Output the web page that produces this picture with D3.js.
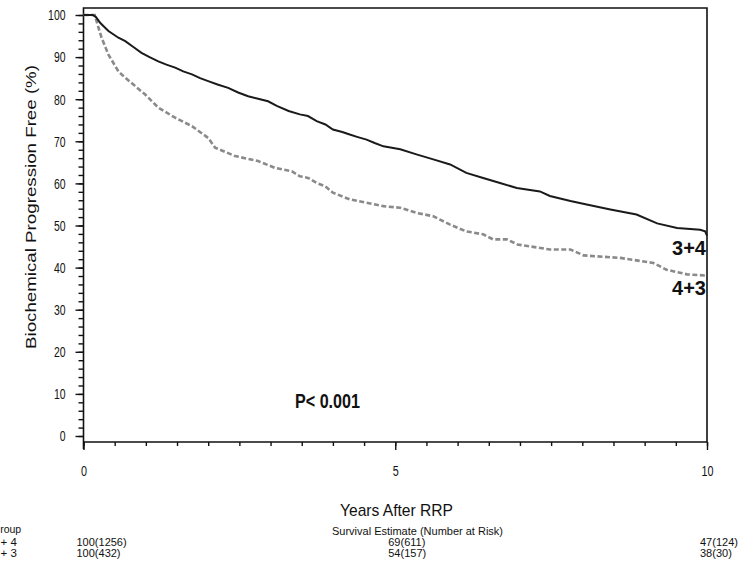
<!DOCTYPE html>
<html>
<head>
<meta charset="utf-8">
<script src="https://cdn.jsdelivr.net/npm/d3@7"></script>
<style>
  body { margin: 0; background: #fff; }
  text { font-family: "Liberation Sans", Arial, sans-serif; fill: #111; }
</style>
</head>
<body>
<svg id="km"></svg>
<script>
// Kaplan-Meier curves (years, % free)
let years34 = [0, 0.15, 0.2, 0.27, 0.4, 0.56, 0.67, 0.8, 0.93, 1.06, 1.2, 1.33, 1.47, 1.6, 1.74, 1.87,
  2.0, 2.15, 2.32, 2.48, 2.64, 2.8, 2.96, 3.1, 3.29, 3.47, 3.6, 3.74, 3.88, 4.0, 4.15, 4.27, 4.4,
  4.54, 4.67, 4.81, 5.08, 5.34, 5.61, 5.88, 6.14, 6.41, 6.68, 6.95, 7.32, 7.48, 7.81, 8.07, 8.45,
  8.87, 9.2, 9.52, 9.89, 9.97, 10];
let surv34 = [100, 100, 99.5, 98.1, 96.2, 94.6, 93.8, 92.4, 91.0, 90.0, 89.0, 88.2, 87.5, 86.6, 85.9, 85.0,
  84.3, 83.5, 82.7, 81.6, 80.7, 80.1, 79.5, 78.4, 77.2, 76.4, 76.0, 74.8, 74.0, 72.8, 72.2, 71.6, 71.0,
  70.4, 69.6, 68.8, 68.1, 66.9, 65.7, 64.5, 62.5, 61.3, 60.1, 58.9, 58.1, 57.0, 55.8, 55.0, 53.8,
  52.6, 50.5, 49.4, 49.0, 48.6, 47.6];

let years43 = [0, 0.18, 0.24, 0.29, 0.4, 0.56, 0.67, 0.83, 0.99, 1.2, 1.47, 1.74, 2.0, 2.11, 2.43, 2.8,
  3.07, 3.34, 3.47, 3.6, 3.74, 3.88, 4.0, 4.27, 4.54, 4.81, 5.08, 5.34, 5.61, 5.88, 6.14, 6.41, 6.57,
  6.79, 6.96, 7.48, 7.81, 8.02, 8.61, 9.14, 9.35, 9.68, 10];
let surv43 = [100, 100, 97, 94.6, 90.6, 86.6, 85.1, 83.1, 81.1, 78, 75.6, 73.6, 70.8, 68.5, 66.5, 65.3,
  63.7, 62.9, 61.7, 61.3, 60.1, 59.3, 57.8, 56.2, 55.4, 54.6, 54.2, 53.0, 52.2, 50.2, 48.6, 47.9, 46.7,
  46.7, 45.5, 44.3, 44.3, 42.9, 42.3, 41.1, 39.5, 38.4, 38.1];

let groups = ['3+4', '4+3'];
let groupRows = ['3 + 4', '4 + 3'];
let riskTimes = [0, 5, 10];
let risk34 = ['100(1256)', '69(611)', '47(124)'];
let risk43 = ['100(432)', '54(157)', '38(30)'];

let yTicks = [0, 10, 20, 30, 40, 50, 60, 70, 80, 90, 100];
let xTicks = [0, 5, 10];

let width = 738, height = 571;
let svg = d3.select('#km').attr('width', width).attr('height', height);

let x = d3.scaleLinear().domain([0, 10]).range([83.5, 707]);
let y = d3.scaleLinear().domain([0, 100]).range([436, 15]);

let frameTop = 8, axisY = 442;

// frame
svg.append('path')
  .attr('d', 'M' + x(0) + ',' + (axisY + 7) + 'V' + frameTop + 'H' + x(10) + 'V' + axisY + 'H' + x(0))
  .attr('fill', 'none').attr('stroke', '#111').attr('stroke-width', 1.6);

// y axis: minor then major ticks
let yMinor = d3.axisLeft(y).tickValues(d3.range(0, 101, 2)).tickSize(5).tickFormat('');
let yMajor = d3.axisLeft(y).tickValues(yTicks).tickSize(8).tickPadding(10);
svg.append('g').attr('transform', 'translate(' + x(0) + ',0)').call(yMinor);
let yg = svg.append('g').attr('transform', 'translate(' + x(0) + ',0)').call(yMajor);
svg.selectAll('.domain').remove();
yg.selectAll('text').style('font-size', '15px')
  .attr('textLength', d => String(d).length * 5.8).attr('lengthAdjust', 'spacingAndGlyphs');

// x axis
let xMinor = d3.axisBottom(x).tickValues(d3.range(0, 10.01, 0.5)).tickSize(4).tickFormat('');
let xMajor = d3.axisBottom(x).tickValues(xTicks).tickSize(8).tickPadding(15);
let xg1 = svg.append('g').attr('transform', 'translate(0,' + axisY + ')').call(xMinor);
let xg = svg.append('g').attr('transform', 'translate(0,' + axisY + ')').call(xMajor);
xg1.select('.domain').remove();
xg.select('.domain').remove();
svg.selectAll('.tick line').attr('stroke', '#111').attr('stroke-width', 1.4);
xg.selectAll('text').style('font-size', '15px')
  .attr('textLength', d => String(d).length * 6).attr('lengthAdjust', 'spacingAndGlyphs');

// curves
let line = d3.line().x(d => x(d[0])).y(d => y(d[1])).curve(d3.curveLinear);
svg.append('path')
  .datum(years43.map((t, i) => [t, surv43[i]]))
  .attr('d', line).attr('fill', 'none')
  .attr('stroke', '#8a8a8a').attr('stroke-width', 2.6).attr('stroke-dasharray', '5,2.5');
svg.append('path')
  .datum(years34.map((t, i) => [t, surv34[i]]))
  .attr('d', line).attr('fill', 'none')
  .attr('stroke', '#1a1a1a').attr('stroke-width', 2);

// curve labels
svg.append('text').attr('x', 706).attr('y', 255).attr('text-anchor', 'end')
  .style('font-size', '20px').style('font-weight', 'bold').text(groups[0]);
svg.append('text').attr('x', 706).attr('y', 295).attr('text-anchor', 'end')
  .style('font-size', '20px').style('font-weight', 'bold').text(groups[1]);

// p value
svg.append('text').attr('x', 295).attr('y', 408)
  .style('font-size', '20px').style('font-weight', 'bold')
  .attr('textLength', 65).attr('lengthAdjust', 'spacingAndGlyphs')
  .text('P< 0.001');

// axis titles
svg.append('text')
  .attr('transform', 'translate(36,207) rotate(-90)')
  .attr('text-anchor', 'middle')
  .style('font-size', '14px')
  .attr('textLength', 284).attr('lengthAdjust', 'spacingAndGlyphs')
  .text('Biochemical Progression Free (%)');

svg.append('text').attr('x', 340).attr('y', 516)
  .style('font-size', '17px')
  .attr('textLength', 113).attr('lengthAdjust', 'spacingAndGlyphs')
  .text('Years After RRP');

// number at risk table
svg.append('text').attr('x', -8).attr('y', 533).style('font-size', '10.5px').text('Group');
svg.append('text').attr('x', 332).attr('y', 535).style('font-size', '10.5px')
  .attr('textLength', 171).attr('lengthAdjust', 'spacingAndGlyphs')
  .text('Survival Estimate (Number at Risk)');

[risk34, risk43].forEach((row, r) => {
  let yy = 546 + r * 11;
  svg.append('text').attr('x', -9).attr('y', yy).style('font-size', '11.5px').text(groupRows[r]);
  svg.selectAll(null).data(riskTimes).enter().append('text')
    .attr('x', d => x(d) - 7).attr('y', yy)
    .style('font-size', '11px')
    .text((d, i) => row[i]);
});
</script>
</body>
</html>
